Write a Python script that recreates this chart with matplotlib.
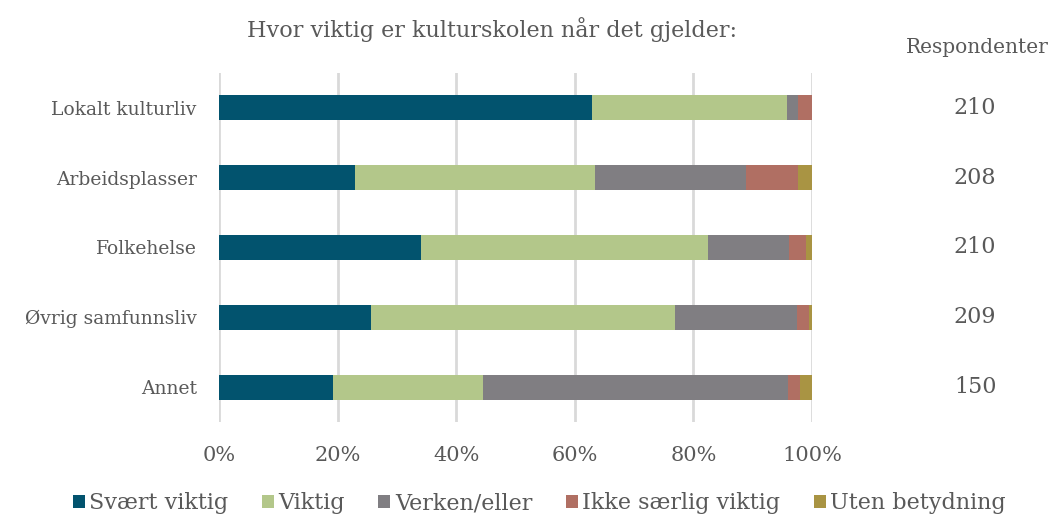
import numpy as np
import matplotlib.pyplot as plt

kategorier = ['Lokalt kulturliv', 'Arbeidsplasser', 'Folkehelse', 'Øvrig samfunnsliv', 'Annet']
respondenter = [210, 208, 210, 209, 150]

# andel i prosent per svaralternativ
svaert_viktig = [62.9, 22.9, 34.1, 25.6, 19.3]
viktig = [32.9, 40.5, 48.3, 51.3, 25.3]
verken_eller = [1.9, 25.5, 13.7, 20.6, 51.3]
ikke_saerlig = [2.3, 8.7, 2.9, 2.0, 2.0]
uten_betydning = [0.0, 2.4, 1.0, 0.5, 2.1]

serier = [svaert_viktig, viktig, verken_eller, ikke_saerlig, uten_betydning]
navn = ['Svært viktig', 'Viktig', 'Verken/eller', 'Ikke særlig viktig', 'Uten betydning']
farger = ['#02536E', '#B3C78A', '#807E82', '#B06F63', '#A99443']

tekstfarge = '#595959'
plt.rcParams['font.family'] = ['DejaVu Serif']

fig = plt.figure(figsize=(10.51, 5.15), dpi=100)
ax = fig.add_axes([0.2084, 0.1806, 0.5642, 0.6777])

y = np.arange(len(kategorier))
venstre = np.zeros(len(kategorier))
for verdier, n, f in zip(serier, navn, farger):
    ax.barh(y, verdier, left=venstre, height=0.36, color=f, label=n, zorder=3)
    venstre += np.array(verdier)

ax.set_xlim(0, 100)
ax.set_ylim(4.5, -0.5)
ax.set_yticks(y)
ax.set_yticklabels(kategorier, fontsize=13.5, color=tekstfarge)
ax.set_xticks(np.arange(0, 101, 20))
ax.set_xticklabels([f'{v}%' for v in range(0, 101, 20)], fontsize=15, color=tekstfarge)
ax.tick_params(axis='y', length=0, pad=16)
ax.tick_params(axis='x', length=0, pad=17)
ax.xaxis.grid(True, color='#D9D9D9', linewidth=2, zorder=0)
for s in ax.spines.values():
    s.set_visible(False)

fig.text(0.468, 0.942, 'Hvor viktig er kulturskolen når det gjelder:',
         ha='center', va='center', fontsize=16, color=tekstfarge)
fig.text(0.93, 0.907, 'Respondenter', ha='center', va='center', fontsize=14.5, color=tekstfarge)
for yi, r in zip(y, respondenter):
    ax.text(1.275, yi, str(r), transform=ax.get_yaxis_transform(),
            ha='center', va='center', fontsize=16, color=tekstfarge)

fig.legend(loc='center', bbox_to_anchor=(0.513, 0.023), ncol=5, frameon=False,
           fontsize=16, handlelength=0.55, handleheight=0.55, handletextpad=0.2,
           columnspacing=1.5, labelcolor=tekstfarge)

fig.savefig('out.png', dpi=100)
